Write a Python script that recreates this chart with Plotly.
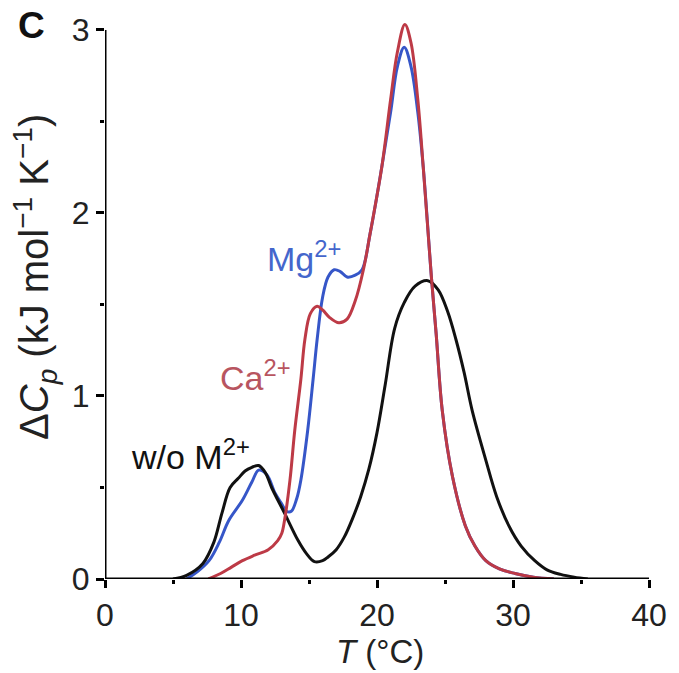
import plotly.graph_objects as go

# --- data ---
t_none = [5.0, 6.0, 7.2, 8.0, 8.6, 9.2, 9.8, 10.3, 10.8, 11.3, 11.8, 12.25, 13.2, 14.2, 14.8, 15.4, 16.0,
          16.4, 17.0, 17.6, 18.2, 18.8, 19.4, 20.0, 20.6, 21.3, 22.0, 22.8, 23.74, 24.5, 25.2, 25.8,
          26.4, 27.0, 28.0, 28.8, 29.7, 30.6, 31.6, 32.5, 33.5, 34.5, 35.5]
cp_none = [0, 0.02, 0.085, 0.2, 0.36, 0.50, 0.55, 0.59, 0.61, 0.62, 0.58, 0.50, 0.36, 0.21, 0.14, 0.095, 0.10,
           0.12, 0.16, 0.23, 0.33, 0.45, 0.60, 0.80, 1.06, 1.37, 1.51, 1.60, 1.63, 1.58, 1.46, 1.31,
           1.13, 0.92, 0.65, 0.45, 0.29, 0.18, 0.10, 0.05, 0.025, 0.01, 0.0]

t_mg = [6.0, 6.8, 7.65, 8.4, 9.1, 10.1, 10.8, 11.3, 11.9, 12.5, 13.0, 13.35, 13.7, 14.1, 14.4, 14.9, 15.3,
        15.6, 16.0, 16.4, 16.85, 17.3, 17.8, 18.4, 18.9, 19.5, 20.35, 21.0, 21.5, 22.0, 22.5, 23.0, 23.4,
        24.0, 24.35, 24.8, 25.55, 26.5, 27.2, 28.0, 29.0, 30.15, 31.5, 33.0]
cp_mg = [0, 0.04, 0.10, 0.20, 0.32, 0.43, 0.53, 0.595, 0.57, 0.47, 0.41, 0.37, 0.37, 0.44, 0.54, 0.81, 1.09,
         1.31, 1.54, 1.65, 1.69, 1.68, 1.65, 1.66, 1.69, 1.89, 2.25, 2.55, 2.80, 2.905, 2.80, 2.55, 2.25,
         1.65, 1.34, 0.92, 0.56, 0.29, 0.18, 0.10, 0.055, 0.03, 0.01, 0.0]

t_ca = [7.6, 8.5, 9.3, 10.1, 11.0, 12.0, 12.7, 13.0, 13.2, 13.6, 13.95, 14.4, 14.7, 15.1, 15.6, 16.0, 16.5,
        17.2, 17.8, 18.4, 19.0, 19.5, 20.35, 21.0, 21.5, 22.05, 22.5, 23.0, 23.4, 24.0, 24.35, 24.8, 25.55,
        26.5, 27.2, 28.0, 29.0, 30.15, 31.5, 33.0]
cp_ca = [0, 0.03, 0.065, 0.10, 0.13, 0.16, 0.21, 0.25, 0.32, 0.54, 0.81, 1.09, 1.31, 1.45, 1.49, 1.47, 1.43,
         1.40, 1.42, 1.52, 1.69, 1.89, 2.25, 2.62, 2.88, 3.03, 2.93, 2.62, 2.25, 1.65, 1.34, 0.92, 0.56,
         0.29, 0.18, 0.10, 0.055, 0.03, 0.01, 0.0]

x_ticks = [0, 10, 20, 30, 40]
y_ticks = [0, 1, 2, 3]

FONT = "Arial, Liberation Sans, sans-serif"
BLUE = "#3656c8"
RED = "#bd3a46"

fig = go.Figure()
fig.add_trace(go.Scatter(x=t_mg, y=cp_mg, mode="lines", line=dict(color=BLUE, width=3, shape="spline"),
                         name="Mg2+"))
fig.add_trace(go.Scatter(x=t_none, y=cp_none, mode="lines", line=dict(color="#111111", width=3, shape="spline"),
                         name="w/o"))
fig.add_trace(go.Scatter(x=t_ca, y=cp_ca, mode="lines", line=dict(color=RED, width=3, shape="spline"),
                         name="Ca2+"))

axis_common = dict(showgrid=False, zeroline=False, showline=False,
                   ticks="outside", ticklen=8, tickwidth=3, tickcolor="black",
                   tickfont=dict(family=FONT, size=32, color="#222"))

fig.update_xaxes(range=[0, 40], tickvals=x_ticks, ticktext=[str(v) for v in x_ticks],
                 minor=dict(tickvals=[5, 15, 25, 35], ticklen=4, tickwidth=3, tickcolor="black", ticks="outside"),
                 **axis_common)
fig.update_yaxes(range=[0, 3.06], tickvals=y_ticks, ticktext=[str(v) for v in y_ticks],
                 minor=dict(tickvals=[0.5, 1.5, 2.5], ticklen=4, tickwidth=3, tickcolor="black", ticks="outside"),
                 **axis_common)

# axis lines spanning exactly the tick range
fig.add_shape(type="line", xref="x", yref="y", x0=0, x1=0, y0=0, y1=3, line=dict(color="black", width=3))
fig.add_shape(type="line", xref="x", yref="y", x0=0, x1=40, y0=0, y1=0, line=dict(color="black", width=3))

ann = []
ann.append(dict(text="Mg<sup>2+</sup>", x=11.75, y=1.76, xref="x", yref="y", xanchor="left", yanchor="middle",
                showarrow=False, font=dict(family=FONT, size=34, color="#4466cc")))
ann.append(dict(text="Ca<sup>2+</sup>", x=8.3, y=1.11, xref="x", yref="y", xanchor="left", yanchor="middle",
                showarrow=False, font=dict(family=FONT, size=34, color="#b85560")))
ann.append(dict(text="w/o M<sup>2+</sup>", x=1.75, y=0.68, xref="x", yref="y", xanchor="left", yanchor="middle",
                showarrow=False, font=dict(family=FONT, size=34, color="#111")))
ann.append(dict(text="Δ<i>C</i><sub><i>p</i></sub> (kJ mol<sup>−1</sup> K<sup>−1</sup>)", x=-0.129, y=0.539,
                xref="paper", yref="paper", xanchor="center", yanchor="middle", textangle=-90,
                showarrow=False, font=dict(family=FONT, size=40, color="#222")))
ann.append(dict(text="<i>T</i> (°C)", x=0.506, y=-0.130, xref="paper", yref="paper", xanchor="center",
                yanchor="middle", showarrow=False, font=dict(family=FONT, size=33, color="#222")))
ann.append(dict(text="<b>C</b>", x=-0.136, y=0.989, xref="paper", yref="paper", xanchor="center",
                yanchor="middle", showarrow=False, font=dict(family=FONT, size=37, color="#111")))

fig.update_layout(width=679, height=673, margin=dict(l=105, r=23, t=19, b=94),
                  plot_bgcolor="white", paper_bgcolor="white", showlegend=False, annotations=ann)

fig.write_html("out.html")
